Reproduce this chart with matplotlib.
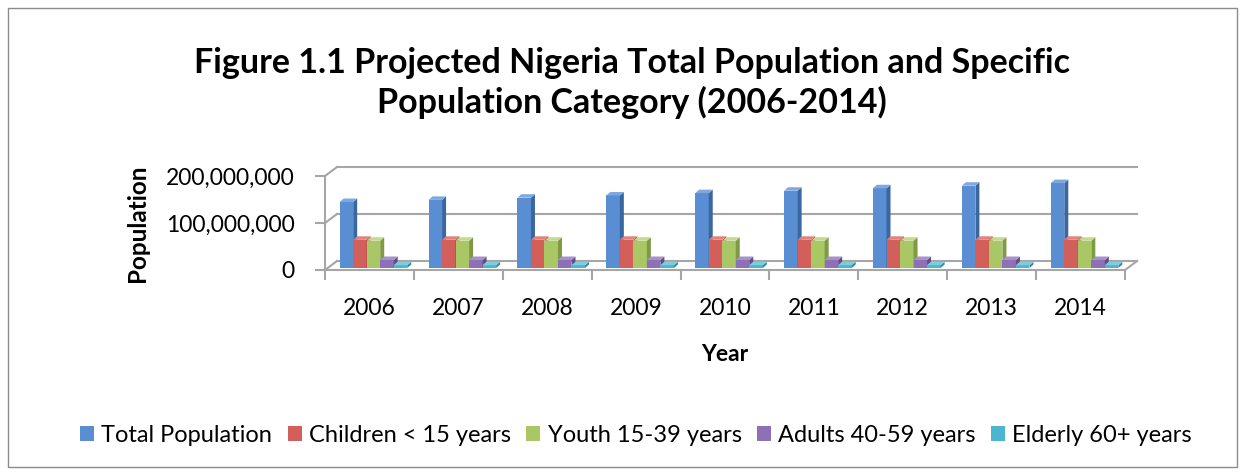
import matplotlib
matplotlib.use("Agg")
import matplotlib.pyplot as plt
from matplotlib.patches import Polygon, Rectangle
from matplotlib.ticker import FuncFormatter, FixedLocator
import numpy as np

plt.rcParams['font.family'] = ['Lato', 'DejaVu Sans']

# ---------------- data ----------------
years = ["2006", "2007", "2008", "2009", "2010", "2011", "2012", "2013", "2014"]
series_names = ["Total Population", "Children < 15 years", "Youth 15-39 years",
                "Adults 40-59 years", "Elderly 60+ years"]
total_pop = [140.4e6, 144.9e6, 149.6e6, 154.3e6, 159.3e6, 164.4e6, 169.7e6, 175.1e6, 180.7e6]
children = [60.0e6, 60.0e6, 60.0e6, 60.0e6, 60.0e6, 60.0e6, 60.0e6, 60.0e6, 60.0e6]
youth = [58.0e6, 58.0e6, 58.0e6, 58.0e6, 58.0e6, 58.0e6, 58.0e6, 58.0e6, 58.0e6]
adults = [17.0e6, 17.0e6, 17.0e6, 17.0e6, 17.0e6, 17.0e6, 17.0e6, 17.0e6, 17.0e6]
elderly = [6.0e6, 6.0e6, 6.0e6, 6.0e6, 6.0e6, 6.0e6, 6.0e6, 6.0e6, 6.0e6]
y_ticks = [0, 100_000_000, 200_000_000]

series = [total_pop, children, youth, adults, elderly]
front_cols = ["#5A8ED2", "#D35F5A", "#A9C865", "#8D70B5", "#4DB6CF"]
side_cols = ["#3B679F", "#A0403D", "#7E9A44", "#634C87", "#31899F"]
top_cols = ["#7FA8DE", "#E0827E", "#C2DA8A", "#A892C8", "#7FCCDD"]
grid_col = "#A6A6A6"

W, H = 1245, 475
fig = plt.figure(figsize=(W / 100, H / 100), dpi=100)
fig.patch.set_facecolor("white")

# outer border
fig.add_artist(Rectangle((8 / W, 8 / H), (W - 16) / W, (H - 16) / H, transform=fig.transFigure,
                         fill=False, edgecolor="#8C8C8C", lw=1.0))

ax_left, ax_right, ax_bottom_px, ax_top_px = 325, 1125, 270, 176
ax = fig.add_axes([ax_left / W, (H - ax_bottom_px) / H, (ax_right - ax_left) / W,
                   (ax_bottom_px - ax_top_px) / H])
ax.set_xlim(0, len(years))
ax.set_ylim(0, 200_000_000)
ax.set_facecolor("none")

for s in ["top", "right"]:
    ax.spines[s].set_visible(False)
for s in ["left", "bottom"]:
    ax.spines[s].set_color(grid_col)
    ax.spines[s].set_linewidth(1.5)

# ticks
ax.yaxis.set_major_locator(FixedLocator(y_ticks))
ax.yaxis.set_major_formatter(FuncFormatter(lambda v, p: f"{int(v):,}"))
ax.tick_params(axis="y", length=7, width=1.5, color=grid_col, pad=15, labelsize=16.5)
ax.xaxis.set_major_locator(FixedLocator(np.arange(len(years) + 1)))
ax.xaxis.set_major_formatter(FuncFormatter(lambda v, p: ""))
ax.xaxis.set_minor_locator(FixedLocator(np.arange(len(years)) + 0.5))
ax.set_xticklabels(years, minor=True)
ax.tick_params(axis="x", which="major", length=7, width=1.5, color=grid_col, direction="out")
ax.tick_params(axis="x", which="minor", length=0, pad=20, labelsize=16.5)

ax.set_ylabel("Population", fontsize=17.5, fontweight="bold", labelpad=12)
ax.set_xlabel("Year", fontsize=16.5, fontweight="bold", labelpad=18)

fig.canvas.draw()
p0 = ax.transData.transform((0, 0))
p1 = ax.transData.transform((1, 100_000_000))
ppx = p1[0] - p0[0]
ppy = (p1[1] - p0[1]) / 100_000_000


def dx(px):
    return px / ppx


def dy(px):
    return px / ppy


# back wall / floor
wdx, wdy = dx(12), dy(9)
n = len(years)
for yv in y_ticks:
    ax.plot([0, wdx], [yv, yv + wdy], color=grid_col, lw=1.5, clip_on=False, zorder=1)
    ax.plot([wdx, n + wdx], [yv + wdy, yv + wdy], color=grid_col, lw=1.5, clip_on=False, zorder=1)
ax.plot([n, n + wdx], [0, wdy], color=grid_col, lw=1.5, clip_on=False, zorder=1)

# bars
bw = 0.152
off_x, off_y = dx(4), dy(2)
bdx, bdy = dx(4), dy(3.5)
z = 3
for i in range(n):
    for k, vals in enumerate(series):
        x0 = i + 0.5 + (k - 2.5) * bw + off_x
        y0 = off_y
        h = vals[i]
        ax.bar(x0, h, width=bw, bottom=y0, align="edge", color=front_cols[k],
               edgecolor="none", zorder=z, clip_on=False)
        side = Polygon([(x0 + bw, y0), (x0 + bw + bdx, y0 + bdy), (x0 + bw + bdx, y0 + h + bdy),
                        (x0 + bw, y0 + h)], closed=True, facecolor=side_cols[k],
                       edgecolor="none", zorder=z, clip_on=False)
        top = Polygon([(x0, y0 + h), (x0 + bw, y0 + h), (x0 + bw + bdx, y0 + h + bdy),
                       (x0 + bdx, y0 + h + bdy)], closed=True, facecolor=top_cols[k],
                      edgecolor="none", zorder=z, clip_on=False)
        ax.add_patch(side)
        ax.add_patch(top)
        z += 1

# title
fig.text(632 / W, 1 - 83 / H, "Figure 1.1 Projected Nigeria Total Population and Specific\n"
         "Population Category (2006-2014)", ha="center", va="center",
         fontsize=24.5, fontweight="bold", linespacing=1.27)

# legend
handles = [Rectangle((0, 0), 1, 1, facecolor=c, edgecolor="none") for c in front_cols]
fig.legend(handles, series_names, loc="center", bbox_to_anchor=(636 / W, 1 - 435 / H),
           ncol=5, frameon=False, fontsize=17, handlelength=0.6, handleheight=0.6,
           handletextpad=0.3, columnspacing=0.65, borderaxespad=0)

fig.savefig("out.png", dpi=100)
